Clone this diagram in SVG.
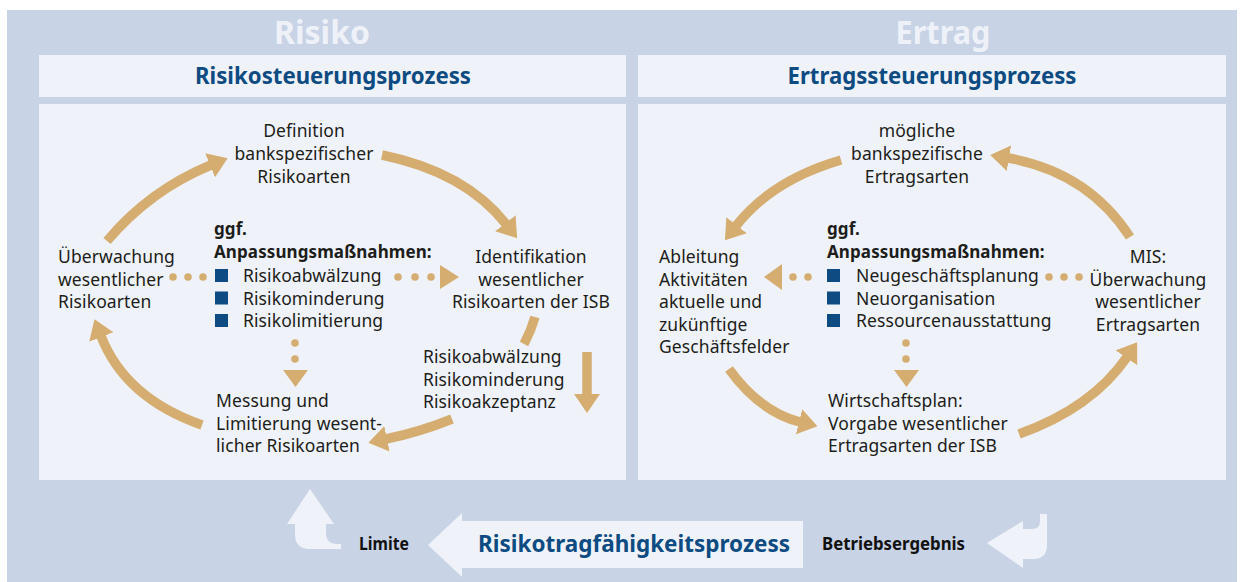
<svg xmlns="http://www.w3.org/2000/svg" width="1246" height="582" viewBox="0 0 1246 582">
<defs>
<style>
.t{font-family:"Noto Sans","Liberation Sans",sans-serif;font-size:17.5px;fill:#1d1d1b;letter-spacing:0.1px}
.b{font-weight:bold;font-size:17px}
.c{text-anchor:middle}
.ttl{font-family:"Noto Sans","Liberation Sans",sans-serif;font-weight:bold;fill:#0d4b82;font-size:23px;text-anchor:middle}
.big{font-family:"Noto Sans","Liberation Sans",sans-serif;font-weight:bold;fill:#eef2f8;font-size:33px;text-anchor:middle}
.bt{font-family:"Noto Sans","Liberation Sans",sans-serif;font-weight:bold;fill:#111;font-size:17px}
.arc{fill:none;stroke:#d5ad70;stroke-width:9.5}
.tan{fill:#d5ad70}
.sq{fill:#0d4b82}
.pnl{fill:#eff3f9}
</style>
<marker id="ah" markerUnits="userSpaceOnUse" viewBox="0 0 19 26" markerWidth="19" markerHeight="26" refX="1" refY="13" orient="auto"><path d="M0,0 L19,13 L0,26 Z" fill="#d5ad70"/></marker>
</defs>
<rect x="7" y="10" width="1230" height="572" fill="#c8d3e6"/>
<text class="big" x="322" y="44" textLength="96" lengthAdjust="spacingAndGlyphs">Risiko</text>
<text class="big" x="943" y="44" textLength="95" lengthAdjust="spacingAndGlyphs">Ertrag</text>

<g id="risk-title">
<rect class="pnl" x="39" y="55" width="587" height="42"/>
<text class="ttl" x="333" y="84" textLength="276" lengthAdjust="spacingAndGlyphs">Risikosteuerungsprozess</text>
</g>
<g id="yield-title">
<rect class="pnl" x="638" y="55" width="588" height="42"/>
<text class="ttl" x="932" y="84" textLength="289" lengthAdjust="spacingAndGlyphs">Ertragssteuerungsprozess</text>
</g>
<g id="risk-panel"><rect class="pnl" x="39" y="104" width="587" height="376"/></g>
<g id="yield-panel"><rect class="pnl" x="638" y="104" width="588" height="376"/></g>

<g id="n-definition">
<text class="t c" x="304" y="137">Definition</text>
<text class="t c" x="304" y="160">bankspezifischer</text>
<text class="t c" x="304" y="183">Risikoarten</text>
</g>
<g id="n-ueberwachung-risk">
<text class="t" x="58" y="263">Überwachung</text>
<text class="t" x="58" y="286">wesentlicher</text>
<text class="t" x="58" y="308">Risikoarten</text>
</g>
<g id="n-identifikation">
<text class="t c" x="531" y="263">Identifikation</text>
<text class="t c" x="531" y="286">wesentlicher</text>
<text class="t c" x="531" y="308">Risikoarten der ISB</text>
</g>
<g id="n-massnahmen-risk">
<text class="t b" x="214" y="235">ggf.</text>
<text class="t b" x="214" y="258">Anpassungsmaßnahmen:</text>
<rect class="sq" x="215" y="269" width="13" height="13"/>
<rect class="sq" x="215" y="291.5" width="13" height="13"/>
<rect class="sq" x="215" y="314" width="13" height="13"/>
<text class="t" x="243" y="282">Risikoabwälzung</text>
<text class="t" x="243" y="304.5">Risikominderung</text>
<text class="t" x="243" y="327">Risikolimitierung</text>
</g>
<g id="n-optionen">
<text class="t" x="423" y="363">Risikoabwälzung</text>
<text class="t" x="423" y="386">Risikominderung</text>
<text class="t" x="423" y="408">Risikoakzeptanz</text>
</g>
<g id="n-messung">
<text class="t" x="216" y="407">Messung und</text>
<text class="t" x="216" y="430">Limitierung wesent-</text>
<text class="t" x="216" y="452">licher Risikoarten</text>
</g>

<g id="n-moegliche">
<text class="t c" x="917" y="137">mögliche</text>
<text class="t c" x="917" y="160">bankspezifische</text>
<text class="t c" x="917" y="183">Ertragsarten</text>
</g>
<g id="n-ableitung">
<text class="t" x="659" y="263">Ableitung</text>
<text class="t" x="659" y="286">Aktivitäten</text>
<text class="t" x="659" y="308">aktuelle und</text>
<text class="t" x="659" y="331">zukünftige</text>
<text class="t" x="659" y="353">Geschäftsfelder</text>
</g>
<g id="n-massnahmen-yield">
<text class="t b" x="827" y="235">ggf.</text>
<text class="t b" x="827" y="258">Anpassungsmaßnahmen:</text>
<rect class="sq" x="827" y="269" width="13" height="13"/>
<rect class="sq" x="827" y="291.5" width="13" height="13"/>
<rect class="sq" x="827" y="314" width="13" height="13"/>
<text class="t" x="856" y="282">Neugeschäftsplanung</text>
<text class="t" x="856" y="304.5">Neuorganisation</text>
<text class="t" x="856" y="327">Ressourcenausstattung</text>
</g>
<g id="n-mis">
<text class="t c" x="1148" y="263">MIS:</text>
<text class="t c" x="1148" y="286">Überwachung</text>
<text class="t c" x="1148" y="308">wesentlicher</text>
<text class="t c" x="1148" y="331">Ertragsarten</text>
</g>
<g id="n-wirtschaftsplan">
<text class="t" x="828" y="407">Wirtschaftsplan:</text>
<text class="t" x="828" y="430">Vorgabe wesentlicher</text>
<text class="t" x="828" y="452">Ertragsarten der ISB</text>
</g>

<g id="connectors">
<path class="arc" d="M107,241 Q150,190 211,165" marker-end="url(#ah)"/>
<path class="arc" d="M382,155 Q465,172 506,224" marker-end="url(#ah)"/>
<path class="arc" d="M535,317 Q531,331 524,344"/>
<path class="arc" d="M587,352 L587,395" stroke-width="8" marker-end="url(#ah)"/>
<path class="arc" d="M452,419 Q420,432 386,439" marker-end="url(#ah)"/>
<path class="arc" d="M202,425 Q125,398 101,336" marker-end="url(#ah)"/>
<path class="arc" d="M841,160 Q772,180 736,226" marker-end="url(#ah)"/>
<path class="arc" d="M1130,237 Q1088,172 1008,158" marker-end="url(#ah)"/>
<path class="arc" d="M729,369 Q760,412 800,422" marker-end="url(#ah)"/>
<path class="arc" d="M1019,434 Q1092,408 1127,357" marker-end="url(#ah)"/>
<g class="tan">
<circle cx="173" cy="277" r="3.8"/><circle cx="188" cy="277" r="3.8"/><circle cx="203" cy="277" r="3.8"/>
<circle cx="398" cy="277" r="3.8"/><circle cx="415" cy="277" r="3.8"/><circle cx="431" cy="277" r="3.8"/>
<path d="M440,265 L459,277 L440,289 Z"/>
<circle cx="295" cy="343" r="3.8"/><circle cx="295" cy="359" r="3.8"/>
<path d="M283,370 L308,370 L295.5,387 Z"/>
<circle cx="793" cy="277" r="3.8"/><circle cx="808" cy="277" r="3.8"/>
<path d="M782,264 L764,277 L782,290 Z"/>
<circle cx="1049" cy="277" r="3.8"/><circle cx="1064" cy="277" r="3.8"/><circle cx="1079" cy="277" r="3.8"/>
<circle cx="906" cy="343" r="3.8"/><circle cx="906" cy="359" r="3.8"/>
<path d="M894,370 L919,370 L906.5,387 Z"/>
</g>
</g>

<g id="rtf-process">
<path class="pnl" d="M428,545 L462,513 L462,521 L803,521 L803,568 L462,568 L462,577 Z"/>
<text class="ttl" x="634" y="552" textLength="312" lengthAdjust="spacingAndGlyphs">Risikotragfähigkeitsprozess</text>
</g>
<g id="limite">
<path class="pnl" d="M287,524 L310,489 L334,524 L326,524 L326,533 Q326,544 337,544 L341,544 L341,549 L310,549 Q295,549 295,534 L295,524 Z"/>
<text class="bt" x="359" y="550" textLength="50" lengthAdjust="spacingAndGlyphs">Limite</text>
</g>
<g id="betriebsergebnis">
<path class="pnl" d="M987,543 L1023,521 L1023,529 L1032,529 Q1040,529 1040,521 L1040,514 L1047,514 L1047,545 Q1047,559 1033,559 L1023,559 L1023,568 Z"/>
<text class="bt" x="822" y="550" textLength="143" lengthAdjust="spacingAndGlyphs">Betriebsergebnis</text>
</g>
</svg>
